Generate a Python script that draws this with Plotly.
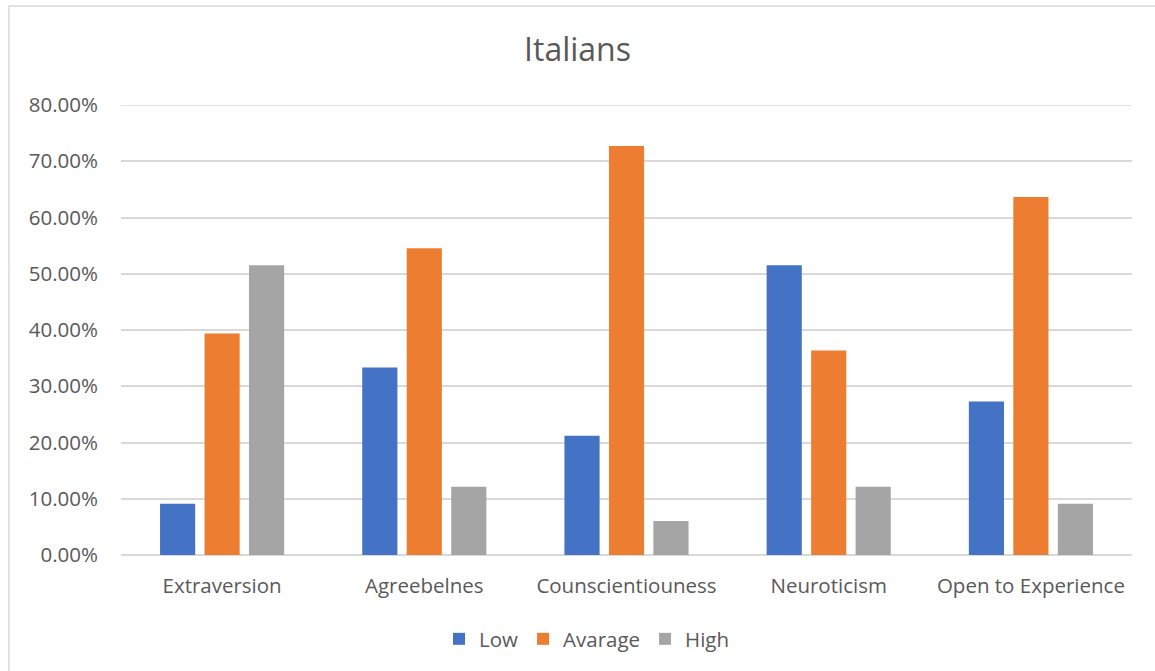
import plotly.graph_objects as go

# Share of Italian respondents per level of each personality trait
traits = ["Extraversion", "Agreebelnes", "Counscientiouness", "Neuroticism", "Open to Experience"]
low = [0.0909, 0.3333, 0.2121, 0.5152, 0.2727]
avarage = [0.3939, 0.5455, 0.7273, 0.3636, 0.6364]
high = [0.5152, 0.1212, 0.0606, 0.1212, 0.0909]
y_ticks = [0, 0.1, 0.2, 0.3, 0.4, 0.5, 0.6, 0.7, 0.8]

W, H = 1155, 671
L, R, T, B = 121, 23, 105, 116
FONT = "Open Sans"
TXT = "#595959"
GRID = "#D9D9D9"
FS = 20.5

fig = go.Figure()
for name, vals, col in [("Low", low, "#4472C4"), ("Avarage", avarage, "#ED7D31"), ("High", high, "#A5A5A5")]:
    fig.add_trace(go.Bar(x=traits, y=vals, name=name, marker=dict(color=col, line=dict(width=0))))

pw = W - L - R
ph = H - T - B
# light frame around the chart area
fx0 = (9 - L) / pw
fx1 = (W + 5 - L) / pw
fy1 = 1 + (T - 6) / ph
fy0 = -(B + 5) / ph

fig.update_layout(
    width=W, height=H,
    margin=dict(l=L, r=R, t=T, b=B),
    paper_bgcolor="white", plot_bgcolor="white",
    barmode="group", bargap=0.34, bargroupgap=0.21,
    font=dict(family=FONT, color=TXT, size=FS),
    title=dict(text="Italians", x=0.5, xanchor="center", y=1 - 50 / H, yanchor="middle",
               font=dict(family=FONT, size=32, color=TXT)),
    xaxis=dict(showline=False, ticks="", tickfont=dict(size=FS, color=TXT), ticklabelstandoff=16),
    yaxis=dict(range=[0, 0.8], tickvals=y_ticks, tickformat=".2%", showgrid=True,
               gridcolor=GRID, gridwidth=1.5, zeroline=True, zerolinecolor=GRID,
               zerolinewidth=1.5, showline=False, ticks="", tickfont=dict(size=FS, color=TXT),
               ticklabelstandoff=22),
    legend=dict(orientation="h", x=(587 - L) / pw, xanchor="center", y=-(639 - 555) / ph,
                yanchor="middle", font=dict(size=FS, color=TXT), itemwidth=30, traceorder="normal"),
    shapes=[
        dict(type="rect", xref="paper", yref="paper", x0=fx0, x1=fx1, y0=fy0, y1=fy1,
             line=dict(color=GRID, width=1.5), fillcolor="rgba(0,0,0,0)", layer="below"),
        # top gridline sits on the plot edge, so draw it explicitly
        dict(type="line", xref="paper", yref="y", x0=0, x1=1, y0=y_ticks[-1], y1=y_ticks[-1],
             line=dict(color=GRID, width=1.5), layer="below"),
    ],
)

fig.write_html("out.html")
